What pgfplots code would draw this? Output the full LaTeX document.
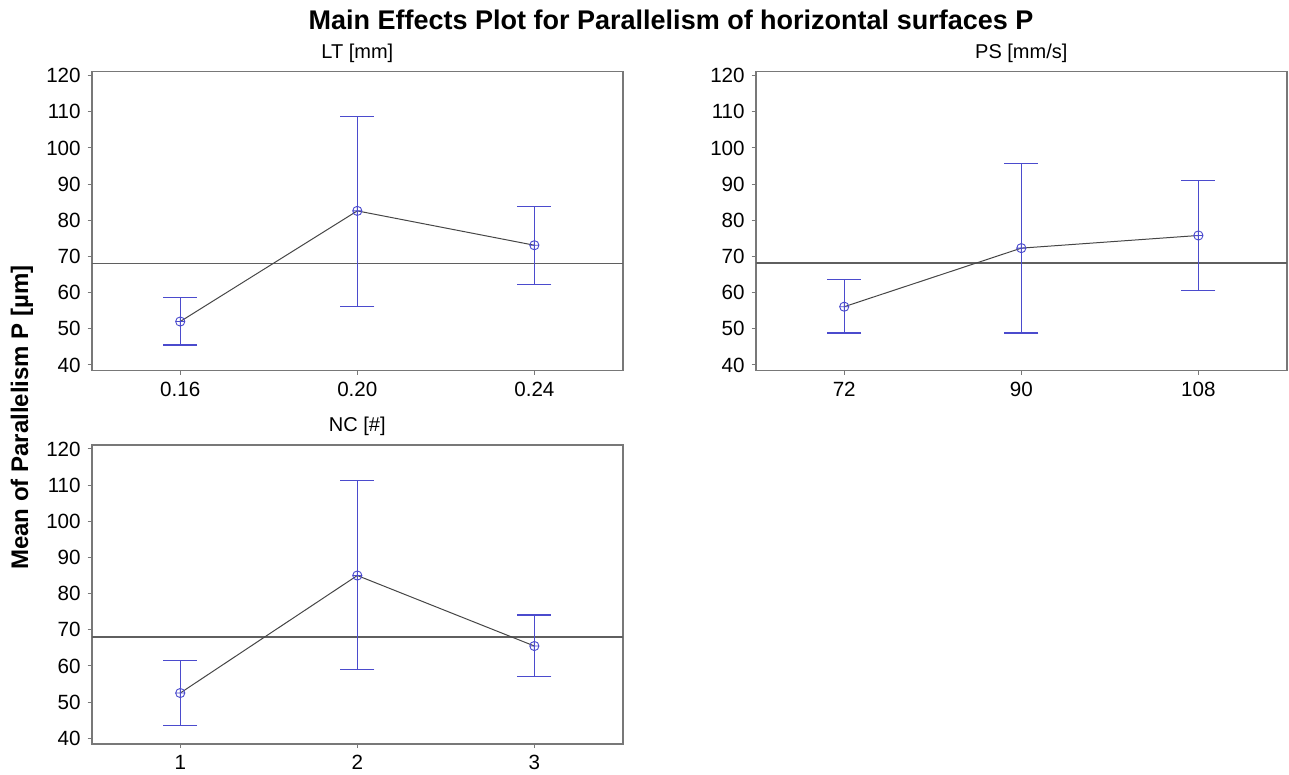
\documentclass[border=0pt]{standalone}
\usepackage{fontspec}
\setmainfont{Liberation Sans}
\usepackage{pgfplots}
\pgfplotsset{compat=1.18}

\definecolor{barblue}{RGB}{75,75,205}
\definecolor{boxgray}{RGB}{120,120,120}
\definecolor{linegray}{RGB}{70,70,70}
\definecolor{refgray}{RGB}{95,95,95}

% x: level index, y: mean, ep/em: upper/lower bar length
\pgfplotstableread{
x y ep em
1 52.0 6.7 6.5
2 82.6 26.2 26.4
3 73.1 10.8 10.9
}\dataLT
\pgfplotstableread{
x y ep em
1 56.1 7.5 7.3
2 72.3 23.4 23.5
3 75.8 15.3 15.2
}\dataPS
\pgfplotstableread{
x y ep em
1 52.5 8.9 8.9
2 85.0 26.3 26.1
3 65.5 8.6 8.4
}\dataNC

\pgfplotsset{
  mep/.style={
    scale only axis,
    width=265.6pt, height=149.5pt,
    anchor=north west,
    xmin=0.5, xmax=3.5,
    ymin=38.4, ymax=121.1,
    xtick={1,2,3},
    ytick={40,50,...,120},
    tick align=outside,
    xtick pos=bottom, ytick pos=left,
    major tick length=2pt,
    major tick style={draw=boxgray, line width=0.5pt},
    axis line style={draw=boxgray, line width=0.8pt},
    tick label style={font=\fontsize{10.3}{12}\selectfont},
    /pgf/number format/assume math mode=true,
    title style={font=\fontsize{10}{12}\selectfont, at={(0.5,1)}, anchor=base, yshift=0.8pt},
  },
  meanline/.style={linegray, line width=0.5pt, mark=none},
  refline/.style={refgray, line width=0.6pt, mark=none},
  meanbars/.style={
    only marks, mark=oplus, mark size=2.3pt,
    mark options={barblue, line width=0.45pt, fill=none},
    error bars/.cd, y dir=both, y explicit,
    error bar style={barblue, line width=0.6pt},
    error mark options={rotate=90, barblue, mark size=8.5pt, line width=0.6pt},
  },
}

\begin{document}
\begin{tikzpicture}
\path[use as bounding box] (0,0) rectangle (644.5pt,-387.5pt);

\node[font=\bfseries\fontsize{13.5}{16}\selectfont, anchor=base] at (335.5pt,-15pt)
  {Main Effects Plot for Parallelism of horizontal surfaces P};
\node[font=\bfseries\fontsize{12}{14}\selectfont, rotate=90, anchor=base] at (14pt,-208.75pt)
  {Mean of Parallelism P [µm]};

\begin{axis}[mep, at={(45.85pt,-35.85pt)}, title={LT [mm]},
  xticklabels={0.16,0.20,0.24}]
\addplot[refline] coordinates {(0.5,68.1) (3.5,68.1)};
\addplot[meanline] table[x=x,y=y] {\dataLT};
\addplot[meanbars] table[x=x,y=y,y error plus=ep,y error minus=em] {\dataLT};
\end{axis}

\begin{axis}[mep, at={(377.85pt,-35.85pt)}, title={PS [mm/s]},
  xticklabels={72,90,108}]
\addplot[refline] coordinates {(0.5,68.2) (3.5,68.2)};
\addplot[meanline] table[x=x,y=y] {\dataPS};
\addplot[meanbars] table[x=x,y=y,y error plus=ep,y error minus=em] {\dataPS};
\end{axis}

\begin{axis}[mep, at={(45.85pt,-222.5pt)}, title={NC [\#]},
  xticklabels={1,2,3}]
\addplot[refline] coordinates {(0.5,68.0) (3.5,68.0)};
\addplot[meanline] table[x=x,y=y] {\dataNC};
\addplot[meanbars] table[x=x,y=y,y error plus=ep,y error minus=em] {\dataNC};
\end{axis}
\end{tikzpicture}
\end{document}
